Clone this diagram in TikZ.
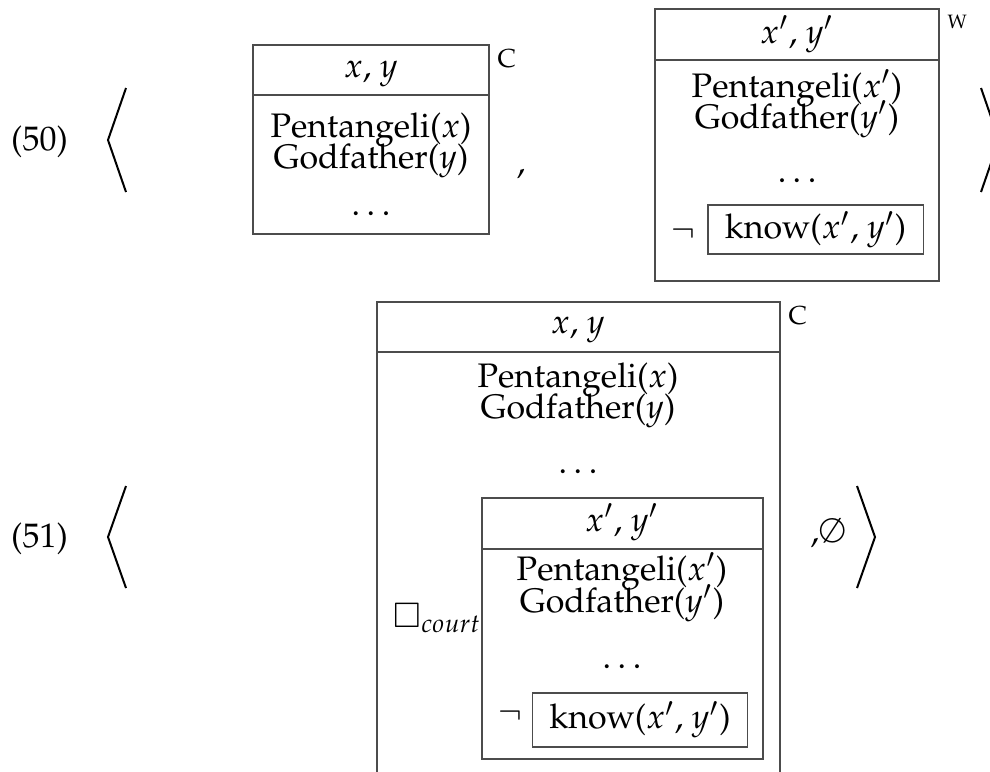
\documentclass[tikz,border=0pt]{standalone}
\usepackage[T1]{fontenc}
\usepackage{mathpazo}
\usepackage{amssymb}
\begin{document}
\begin{tikzpicture}[x=0.3pt,y=-0.3pt,
  txt/.style={inner sep=0pt, anchor=base, font=\fontsize{10.2}{12}\selectfont},
  lbl/.style={inner sep=0pt, anchor=base west, font=\fontsize{7.8}{9}\selectfont},
  boxline/.style={draw=black!70, line width=0.4pt},
  knowbox/.style={draw=black!70, line width=0.4pt, inner sep=0pt, minimum width=64.6pt, font=\fontsize{10.2}{12}\selectfont},
  brack/.style={line width=0.6pt, line join=miter}]
\clip (0,0) rectangle (990,771);
% ---------- (50) ----------
\node[txt] (n50) at (39.5,150) {(50)};
\draw[brack] (126,88) -- (108,140) -- (126,192);
% box C
\draw[boxline] (253,45) rectangle (489,234);
\draw[boxline] (253,95) -- (489,95);
\node[txt] (h1) at (371,77) {$x$, $y$};
\node[txt] (p1) at (371,137) {Pentangeli($x$)};
\node[txt] (g1) at (371,168) {Godfather($y$)};
\node[txt] (d1) at (371,215) {$\ldots$};
\node[lbl] (c1) at (497,67) {C};
\node[txt] (comma1) at (521,173) {,};
% box W
\draw[boxline] (655,9) rectangle (939,281);
\draw[boxline] (655,60) -- (939,60);
\node[txt] (h2) at (797,43) {$x'$, $y'$};
\node[txt] (p2) at (797,97) {Pentangeli($x'$)};
\node[txt] (g2) at (797,128) {Godfather($y'$)};
\node[txt] (d2) at (797,182) {$\ldots$};
\node[knowbox, minimum height=14.7pt] (k2) at (815.5,229.5) {know($x'$, $y'$)};
\node[txt] (neg2) at (683,241) {$\neg$};
\node[lbl, font=\fontsize{5.8}{7}\selectfont] (w) at (947,28) {W};
\draw[brack] (981,88) -- (999,140) -- (981,192);
% ---------- (51) ----------
\node[txt] (n51) at (39.5,547) {(51)};
\draw[brack] (126,486) -- (108,537) -- (126,588);
% outer box C
\draw[boxline] (377,302) rectangle (780,800);
\draw[boxline] (377,352) -- (780,352);
\node[txt] (h3) at (578,333) {$x$, $y$};
\node[txt] (p3) at (578,387) {Pentangeli($x$)};
\node[txt] (g3) at (578,418) {Godfather($y$)};
\node[txt] (d3) at (578,473) {$\ldots$};
\node[lbl] (c2) at (788,324) {C};
% inner box
\draw[boxline] (482,498) rectangle (763,759);
\draw[boxline] (482,549) -- (763,549);
\node[txt] (h4) at (622,531) {$x'$, $y'$};
\node[txt] (p4) at (622,580) {Pentangeli($x'$)};
\node[txt] (g4) at (622,612) {Godfather($y'$)};
\node[txt] (d4) at (622,668) {$\ldots$};
\node[knowbox, minimum height=16.2pt] (k4) at (640,720) {know($x'$, $y'$)};
\node[txt] (neg4) at (510,723) {$\neg$};
\node[txt, anchor=base west] (bc) at (393,627) {$\Box_{court}$};
\node[txt, anchor=base west] (ce) at (810,542) {,$\emptyset$};
\draw[brack] (857,486) -- (875,537) -- (857,588);
\end{tikzpicture}
\end{document}
